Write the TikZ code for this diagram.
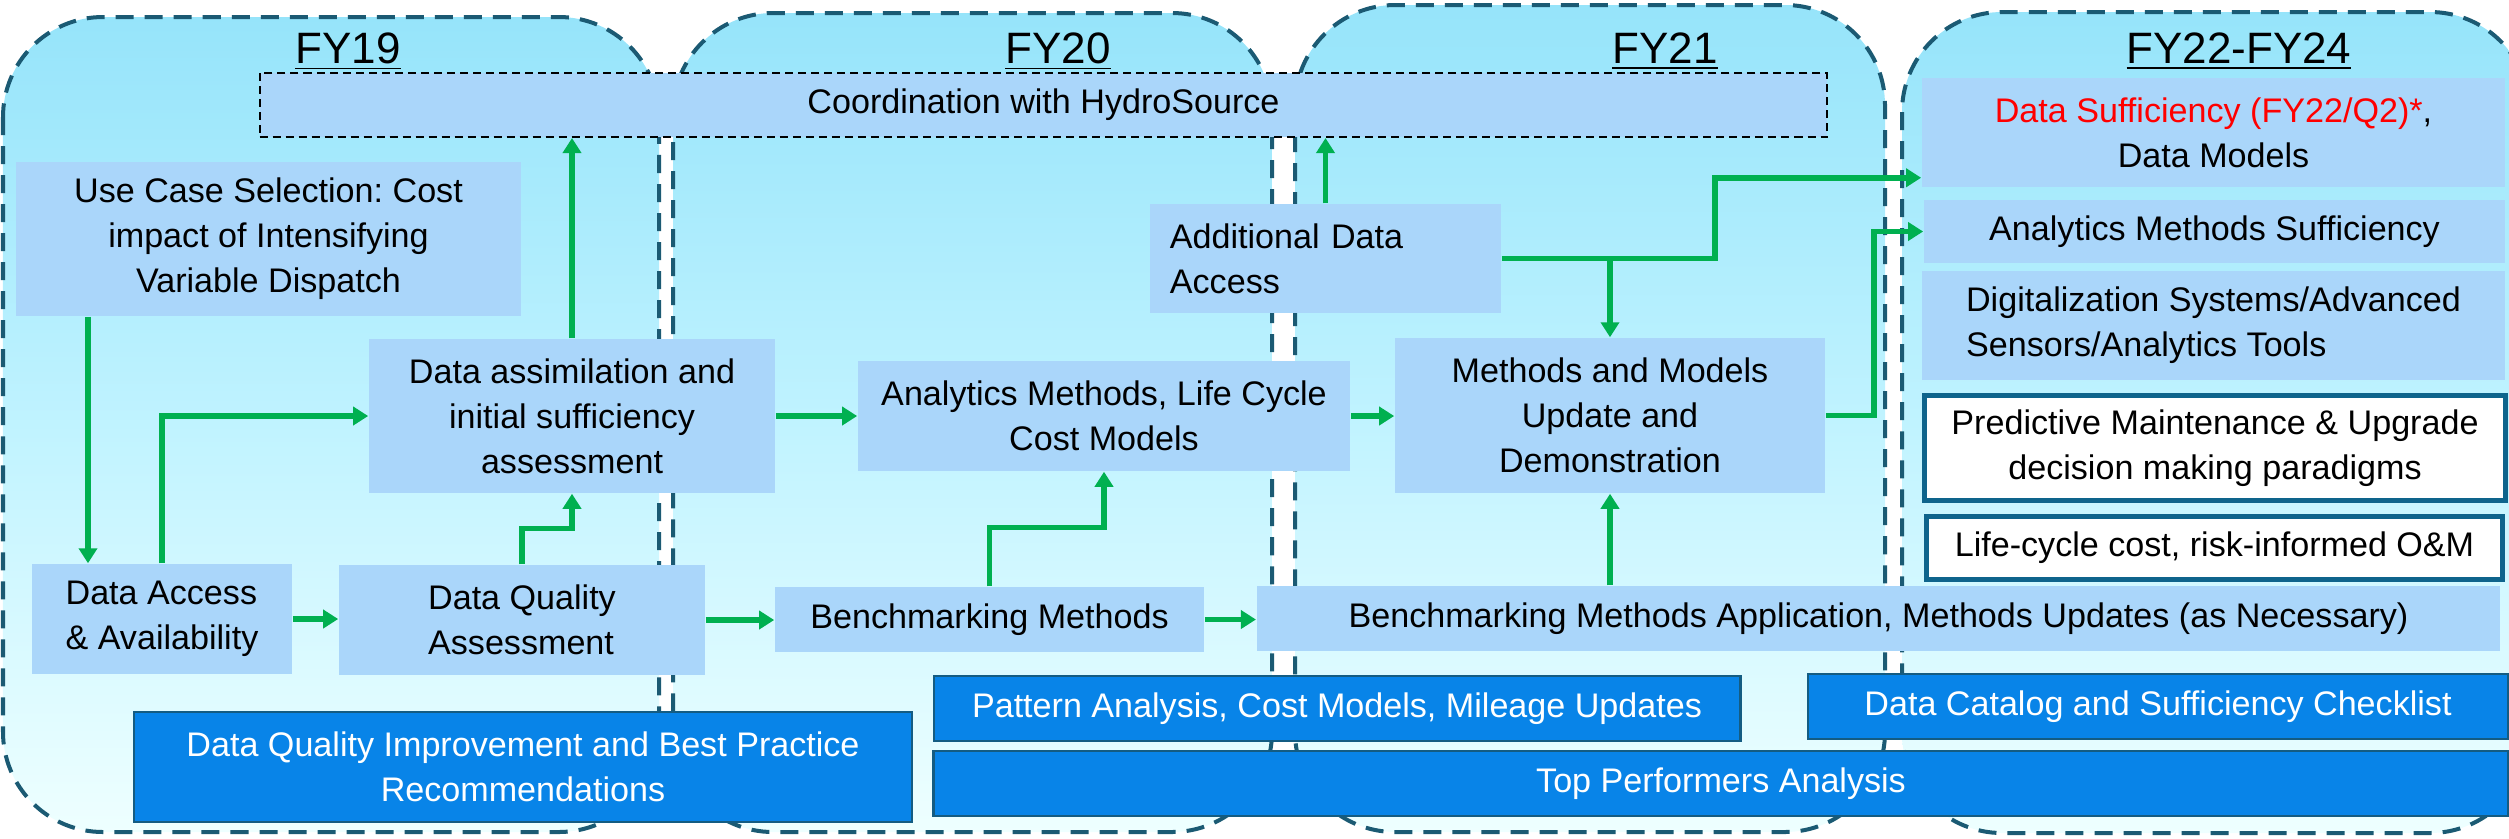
\documentclass[tikz,border=0pt]{standalone}
\usepackage{fontspec}
\setmainfont{Liberation Sans}
\usetikzlibrary{arrows.meta,calc}
\frenchspacing

\definecolor{lightbox}{RGB}{170,214,250}
\definecolor{darkbox}{RGB}{8,132,232}
\definecolor{darkedge}{RGB}{20,92,130}
\definecolor{paneledge}{RGB}{27,90,115}
\definecolor{paneltop}{RGB}{150,228,250}
\definecolor{panelmid}{RGB}{192,243,255}
\definecolor{panelbot}{RGB}{238,255,255}
\definecolor{flowgreen}{RGB}{0,176,80}
\definecolor{framedge}{RGB}{14,100,140}

\newcommand\txtfont{\fontsize{9.7}{12.8}\selectfont}
\newcommand\yearfont{\fontsize{12.5}{15}\selectfont}

\begin{document}
\begin{tikzpicture}[x=0.01cm,y=-0.01cm,
  panel/.style={draw=paneledge, line width=0.04cm, dash pattern=on 0.18cm off 0.11cm,
    rounded corners=1cm, top color=paneltop, bottom color=panelbot, middle color=panelmid},
  yeartitle/.style={anchor=base, inner sep=0pt, font=\yearfont},
  lbox/.style={fill=lightbox, inner sep=0pt, align=center, font=\txtfont},
  dbox/.style={fill=darkbox, draw=darkedge, line width=0.025cm, inner sep=0pt,
    align=center, text=white, font=\txtfont},
  wbox/.style={fill=white, draw=framedge, line width=0.05cm, inner sep=0pt,
    align=center, font=\txtfont},
  coordbox/.style={lbox, draw=black, line width=0.02cm, dash pattern=on 0.08cm off 0.05cm},
  arr/.style={draw=flowgreen, line width=0.055cm, -{Triangle[length=0.15cm,width=0.18cm]}}
]
\useasboundingbox (0,0) rectangle (2509,838);

% year columns
\path[panel] (3,17) rectangle (659,832);
\path[panel] (673,13) rectangle (1272,832);
\path[panel] (1295,5) rectangle (1885,832);
\path[panel] (1902,12) rectangle (2530,833);

\node[yeartitle] (fy19) at (348,63) {\underline{FY19}};
\node[yeartitle] (fy20) at (1058,63) {\underline{FY20}};
\node[yeartitle] (fy21) at (1665,63) {\underline{FY21}};
\node[yeartitle] (fy22) at (2239,63) {\underline{FY22-FY24}};

% coordination band
\node[coordbox, minimum width=15.67cm, minimum height=0.64cm] (coord) at (1043.5,105)
  {Coordination with HydroSource};

% process steps
\node[lbox, minimum width=5.05cm, minimum height=1.54cm] (usecase) at (268.5,239)
  {Use Case Selection: Cost\\impact of Intensifying\\Variable Dispatch};
\node[lbox, minimum width=4.06cm, minimum height=1.54cm] (assim) at (572,416)
  {Data assimilation and\\initial sufficiency\\assessment};
\node[lbox, minimum width=2.60cm, minimum height=1.10cm, align=left] (access) at (162,619)
  {Data Access\\\& Availability};
\node[lbox, minimum width=3.66cm, minimum height=1.10cm, align=left] (quality) at (522,620)
  {Data Quality\\Assessment};
\node[lbox, minimum width=4.92cm, minimum height=1.10cm] (analytics) at (1104,416)
  {Analytics Methods, Life Cycle\\Cost Models};
\node[lbox, minimum width=3.51cm, minimum height=1.09cm, align=left, text width=3.11cm] (adddata) at (1325.5,258.5)
  {Additional Data\\Access};
\node[lbox, minimum width=4.30cm, minimum height=1.55cm] (methods) at (1610,415.5)
  {Methods and Models\\Update and\\Demonstration};
\node[lbox, minimum width=4.29cm, minimum height=0.65cm] (bench) at (989.5,619.5)
  {Benchmarking Methods};
\node[lbox, minimum width=12.43cm, minimum height=0.65cm] (benchapp) at (1878.5,618.5)
  {Benchmarking Methods Application, Methods Updates (as Necessary)};

% outcomes
\node[lbox, minimum width=5.83cm, minimum height=1.09cm] (datasuff) at (2213.5,132.5)
  {{\color{red}Data Sufficiency (FY22/Q2)*},\\Data Models};
\node[lbox, minimum width=5.81cm, minimum height=0.63cm] (anasuff) at (2214.5,231.5)
  {Analytics Methods Sufficiency};
\node[lbox, minimum width=5.83cm, minimum height=1.09cm, align=left] (digital) at (2213.5,325.5)
  {Digitalization Systems/Advanced\\Sensors/Analytics Tools};
\node[wbox, minimum width=5.81cm, minimum height=1.05cm] (predict) at (2215,448)
  {Predictive Maintenance \& Upgrade\\decision making paradigms};
\node[wbox, minimum width=5.76cm, minimum height=0.63cm] (lifecycle) at (2214.5,548)
  {Life-cycle cost, risk-informed O\&M};

% supporting activities
\node[dbox, minimum width=7.78cm, minimum height=1.10cm] (dqimprove) at (523,767)
  {Data Quality Improvement and Best Practice\\Recommendations};
\node[dbox, minimum width=8.06cm, minimum height=0.65cm] (pattern) at (1337,708.5)
  {Pattern Analysis, Cost Models, Mileage Updates};
\node[dbox, minimum width=15.74cm, minimum height=0.65cm] (topperf) at (1721,783.5)
  {Top Performers Analysis};
\node[dbox, minimum width=7.00cm, minimum height=0.65cm] (catalog) at (2158,706.5)
  {Data Catalog and Sufficiency Checklist};

% flow
\coordinate (xa) at (88,0);
\draw[arr] (usecase.south -| xa) -- (access.north -| xa);
\draw[arr] (access.north) |- (assim.west);
\draw[arr] (access.east) -- (access.east -| quality.west);
\draw[arr] (quality.north) -- ++(0,-36) -| (assim.south);
\draw[arr] (assim.north) -- (assim.north |- coord.south);
\draw[arr] (assim.east) -- (assim.east -| analytics.west);
\draw[arr] (quality.east) -- (quality.east -| bench.west);
\draw[arr] (bench.north) -- ++(0,-59) -| (analytics.south);
\draw[arr] (bench.east) -- (bench.east -| benchapp.west);
\draw[arr] (analytics.east) -- (analytics.east -| methods.west);
\draw[arr] (adddata.north) -- (adddata.north |- coord.south);
\draw[arr] (adddata.east) -- ++(213,0) |- ($(datasuff.south west)+(0,-10)$);
\draw[arr] (adddata.east -| methods.north) -- (methods.north);
\draw[arr] (methods.east) -- ++(48,0) |- (anasuff.west);
\draw[arr] (benchapp.north -| methods.south) -- (methods.south);
\end{tikzpicture}
\end{document}
